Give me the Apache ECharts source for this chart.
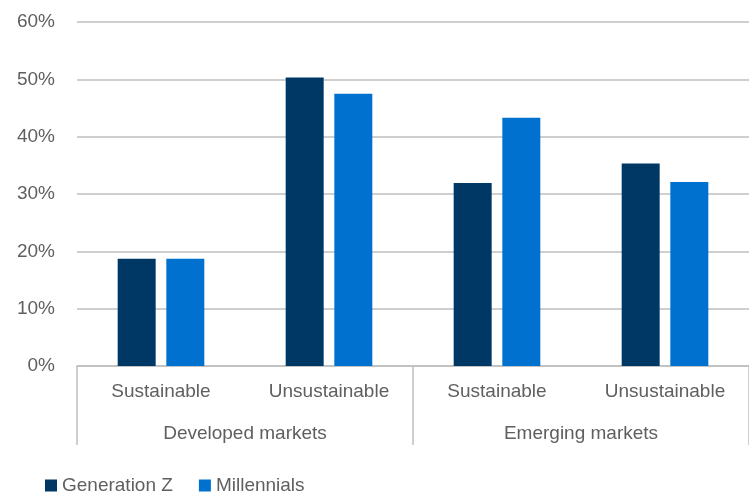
<!DOCTYPE html>
<html>
<head>
<meta charset="utf-8">
<script src="https://cdn.jsdelivr.net/npm/echarts@6/dist/echarts.min.js"></script>
<style>
  html, body { margin: 0; padding: 0; background: #fff; }
  #chart { width: 749px; height: 495px; }
</style>
</head>
<body>
<div id="chart"></div>
<script>
// 数据
var categories = ["Sustainable", "Unsustainable", "Sustainable", "Unsustainable"];
var groups = ["Developed markets", "Emerging markets"];
var genZ = [18.7, 50.3, 31.9, 35.3];
var millennials = [18.7, 47.5, 43.3, 32.1];

var textColor = "#5f5f5f";
var lineColor = "#bfbfbf";
var font = "Liberation Sans";

var chart = echarts.init(document.getElementById("chart"));

var option = {
  animation: false,
  textStyle: { fontFamily: font },
  grid: { left: 77, top: 22, width: 676, height: 344, containLabel: false },
  legend: {
    left: 40,
    top: 471,
    itemWidth: 12,
    itemHeight: 12,
    itemGap: 26,
    icon: "rect",
    textStyle: { fontSize: 19, color: textColor, fontFamily: font },
    data: ["Generation Z", "Millennials"]
  },
  xAxis: [
    {
      type: "category",
      data: categories,
      axisLine: { lineStyle: { color: lineColor, width: 1.5 } },
      axisTick: { show: false },
      axisLabel: { color: textColor, fontSize: 19, margin: 16 }
    },
    {
      type: "category",
      data: groups,
      position: "bottom",
      axisLine: { show: false },
      axisTick: { show: true, length: 79, lineStyle: { color: lineColor, width: 1.5 } },
      axisLabel: { color: textColor, fontSize: 19, margin: 58 }
    }
  ],
  yAxis: {
    type: "value",
    min: 0,
    max: 60,
    interval: 10,
    axisLine: { show: false },
    axisTick: { show: false },
    axisLabel: { formatter: "{value}%", color: textColor, fontSize: 19, margin: 22 },
    splitLine: { lineStyle: { color: lineColor, width: 1.5 } }
  },
  series: [
    {
      name: "Generation Z",
      type: "bar",
      data: genZ,
      barWidth: 38,
      barGap: "28%",
      itemStyle: { color: "#003865" }
    },
    {
      name: "Millennials",
      type: "bar",
      data: millennials,
      barWidth: 38,
      itemStyle: { color: "#0071ce" }
    }
  ]
};

chart.setOption(option);
</script>
</body>
</html>
